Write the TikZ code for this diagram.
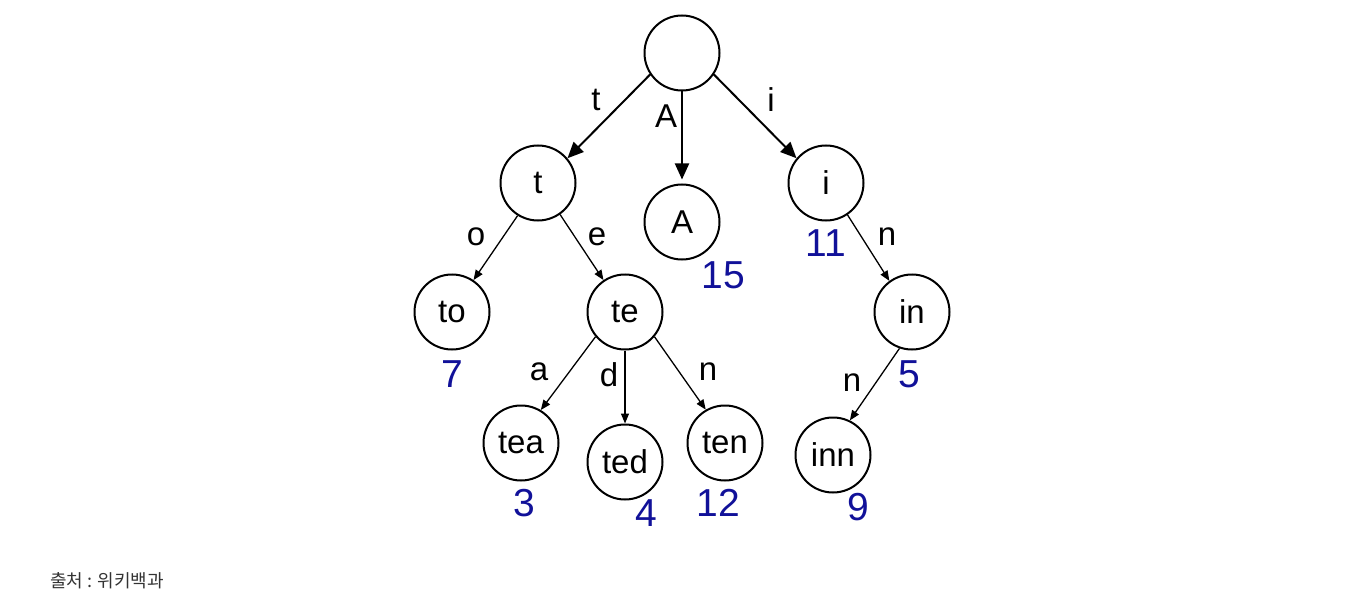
\documentclass[tikz,border=0pt]{standalone}
\usepackage{fontspec}
\setmainfont{Liberation Sans}
\newfontfamily\kofont{Noto Sans CJK KR}
\usetikzlibrary{arrows.meta}
\definecolor{numblue}{RGB}{17,17,153}
\definecolor{capgray}{RGB}{51,51,51}
\begin{document}
\begin{tikzpicture}[x=1pt,y=-1pt,
  tnode/.style={circle,draw,line width=2pt,minimum size=75pt,inner sep=0pt,font=\fontsize{33}{38}\selectfont},
  elabel/.style={inner sep=0pt,font=\fontsize{33}{38}\selectfont},
  num/.style={inner sep=0pt,text=numblue,font=\fontsize{39}{44}\selectfont},
  bigarrow/.style={line width=2pt,-{Triangle[length=16pt,width=14pt]}},
  smallarrow/.style={line width=1.3pt,-{Triangle[length=10pt,width=8pt]}}]
\useasboundingbox (0,0) rectangle (1363,607);
\node[tnode] (root) at (682,53) {};
\node[tnode] (t) at (538,183) {t};
\node[tnode] (A) at (682,222) {A};
\node[tnode] (i) at (826,183) {i};
\node[tnode] (to) at (452,312) {to};
\node[tnode] (te) at (625,312) {te};
\node[tnode] (in) at (912,312) {in};
\node[tnode] (tea) at (521,443) {tea};
\node[tnode] (ted) at (625,462) {ted};
\node[tnode] (ten) at (725,443) {ten};
\node[tnode] (inn) at (833,455) {inn};
% edges
\draw[bigarrow] (root.214) -- (t.40);
\draw[bigarrow,shorten >=4pt] (root.south) -- (A.north);
\draw[bigarrow] (root.326) -- (i.140);
\draw[smallarrow] (t.238) -- (to.56);
\draw[smallarrow] (t.305) -- (te.124);
\draw[smallarrow] (te.220) -- (tea.59);
\draw[smallarrow] (te.south) -- (ted.north);
\draw[smallarrow] (te.320) -- (ten.120);
\draw[smallarrow] (i.304) -- (in.126);
\draw[smallarrow] (in.251) -- (inn.64);
% edge labels
\node[elabel] (lt) at (596,100) {t};
\node[elabel] (lA) at (666,116) {A};
\node[elabel] (li) at (771,100) {i};
\node[elabel] (lo) at (476,237) {o};
\node[elabel] (le) at (597,237) {e};
\node[elabel] (ln1) at (887,237) {n};
\node[elabel] (la) at (539,372) {a};
\node[elabel] (ld) at (609,375) {d};
\node[elabel] (ln2) at (708,372) {n};
\node[elabel] (ln3) at (852,383) {n};
% numbers
\node[num] (n15) at (723,275) {15};
\node[num] (n11) at (826,243) {11};
\node[num] (n7) at (452,374) {7};
\node[num] (n5) at (909,374) {5};
\node[num] (n3) at (524,503) {3};
\node[num] (n4) at (646,513) {4};
\node[num] (n12) at (718,503) {12};
\node[num] (n9) at (858,507) {9};
% caption
\node[anchor=west,inner sep=0pt,text=capgray,font=\kofont\fontsize{18}{21}\selectfont] (cap) at (50,581) {출처 : 위키백과};
\end{tikzpicture}
\end{document}
